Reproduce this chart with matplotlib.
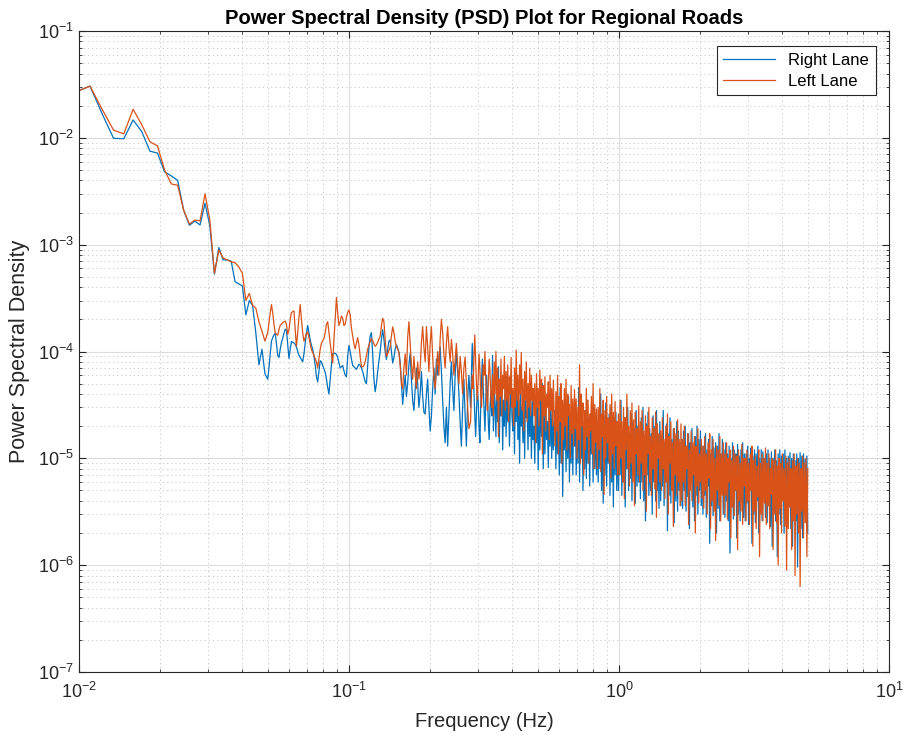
import numpy as np
import matplotlib
matplotlib.use("Agg")
import matplotlib.pyplot as plt
from matplotlib.ticker import LogLocator, NullFormatter

plt.rcParams['font.family'] = ['Liberation Sans', 'DejaVu Sans']
plt.rcParams['mathtext.fontset'] = 'custom'
plt.rcParams['mathtext.rm'] = 'Liberation Sans'
plt.rcParams['mathtext.it'] = 'Liberation Sans:italic'
plt.rcParams['mathtext.bf'] = 'Liberation Sans:bold'

# spectrum settings (fs = 10 Hz, nfft = 8192)
fs = 10.0
nfft = 8192

# PSD values in units of 1e-6, low-frequency bins k = 8..40
right_low = [27000, 30500, 16600, 9900, 9800, 14700, 11400, 7500, 7200, 4800, 4400,
             4000, 2100, 1520, 1660, 1530, 2440, 1500, 530, 940, 720, 720, 700,
             450, 430, 410, 220, 300, 270, 150, 75, 105, 62]
left_low = [27000, 30500, 18300, 11800, 10900, 18500, 13200, 9200, 8400, 5000, 3700,
            3600, 2100, 1560, 1700, 1670, 3000, 1700, 540, 890, 750, 720, 690,
            677, 620, 540, 300, 350, 270, 255, 190, 155, 125]

# PSD values in units of 1e-6, 0.05 Hz .. 0.278 Hz
right_mid = [
    55, 70, 95, 125, 135, 143, 148, 118, 92, 88, 105, 122, 133, 148, 162, 158, 115, 86,
    105, 124, 122, 120, 117, 110, 100, 92, 88, 84, 80, 95, 120, 150, 175, 150, 128, 114,
    105, 90, 75, 58, 52, 65, 82, 80, 74, 69, 64, 55, 46, 40, 55, 75, 95, 96,
    96, 94, 88, 78, 70, 72, 74, 66, 60, 58, 90, 114, 100, 85, 74, 72, 70, 68,
    72, 76, 74, 70, 65, 58, 52, 50, 75, 110, 140, 150, 95, 55, 42, 50, 65, 82,
    100, 130, 160, 130, 100, 84, 105, 125, 128, 100, 78, 88, 105, 116, 108, 98, 80, 52,
    32, 45, 60, 38, 50, 75, 96, 55, 35, 28, 45, 70, 50, 30, 40, 65, 38, 27,
    26, 40, 55, 30, 18, 25, 45, 70, 40, 85, 60, 90, 110, 65, 35, 20, 14, 30,
    13, 25, 50, 80, 45, 28, 60, 100, 65, 40, 22, 13, 30, 55, 25, 13, 35, 60,
]
left_mid = [
    150, 185, 230, 275, 230, 180, 150, 145, 142, 160, 176, 180, 186, 190, 192, 180, 145, 160,
    200, 232, 236, 240, 160, 112, 150, 210, 275, 200, 150, 125, 135, 148, 152, 135, 118, 104,
    98, 92, 86, 80, 70, 85, 105, 120, 126, 132, 150, 180, 190, 150, 118, 95, 78, 130,
    200, 320, 230, 175, 190, 215, 205, 175, 180, 210, 232, 245, 220, 165, 140, 118, 106, 120,
    135, 115, 90, 72, 72, 74, 80, 92, 105, 115, 124, 132, 126, 118, 112, 115, 122, 130,
    140, 175, 205, 190, 130, 90, 95, 102, 110, 140, 170, 150, 125, 112, 105, 98, 75, 50,
    45, 70, 95, 60, 135, 190, 120, 75, 55, 90, 60, 45, 80, 55, 70, 120, 171, 110,
    80, 171, 110, 65, 120, 171, 90, 55, 45, 70, 100, 60, 130, 200, 150, 95, 70, 120,
    171, 110, 80, 130, 95, 60, 85, 119, 75, 50, 90, 65, 40, 70, 89, 50, 30, 19,
]

# PSD values in units of 1e-6, 0.282 Hz .. 5 Hz (dense part of the spectrum)
right_dense = [
    30, 60, 119, 70, 40, 25, 16, 28, 45, 35, 20, 14, 30, 55, 85, 45, 28, 18, 35, 60, 40, 22, 15, 30, 42,
    25, 92, 18, 45, 30, 16, 55, 22, 72, 14, 40, 25, 50, 12, 35, 20, 60, 16, 38, 22, 45, 13, 30, 55, 25,
    18, 40, 11, 50, 22, 60, 15, 35, 9, 45, 20, 30, 14, 38, 10, 50, 24, 28, 12, 42, 16, 33, 10, 36, 15,
    20, 9, 32, 14, 40, 7.8, 25, 12, 35, 16, 50, 8, 28, 11, 33, 15, 22, 8.2, 30, 13, 38, 10, 26, 12, 22,
    28, 8, 35, 11, 25, 7, 46, 9, 30, 4.4, 22, 12, 32, 7.5, 27, 10, 38, 6, 24, 9, 30, 7, 26, 13, 33,
    7, 25, 9, 46, 6, 22, 10, 30, 5, 20, 8, 28, 6.5, 35, 9, 24, 5.5, 26, 11, 21, 6, 30, 8, 23, 7,
    22, 6, 28, 8, 40, 5, 20, 3.8, 25, 7, 33, 5.5, 21, 9, 26, 4.5, 30, 6, 19, 3.5, 24, 7, 27, 5, 22,
    5, 20, 7, 35, 4.5, 18, 6, 24, 3.5, 21, 8, 30, 5, 17, 6.5, 26, 4, 22, 7, 19, 3.8, 28, 5.5, 20, 6,
    18, 4.2, 24, 6, 30, 4, 16, 2.6, 21, 7, 27, 4.5, 19, 5, 17, 3, 25, 6, 20, 4, 28, 5, 15, 3.4, 22,
    4, 16, 5.5, 28, 3.6, 14, 6, 21, 2.1, 17, 4.5, 24, 3.8, 15, 5, 19, 2.5, 16, 4, 22, 3.2, 18, 5, 14, 3.6,
    15, 3.4, 18, 5, 20, 3.2, 13, 4.4, 17, 2.2, 14, 6, 19, 3.5, 12, 2.6, 16, 4.5, 20, 3, 15, 5, 18, 3.6, 13,
    3, 13, 4.5, 17, 2.8, 12, 5.5, 15, 1.6, 11, 3.6, 16, 2.9, 12.5, 4, 14, 2, 13, 3.4, 17, 2.6, 11, 4.8, 15, 3,
    12, 2.8, 14, 4, 11, 2.6, 13, 1.3, 10, 3.5, 14, 2.7, 12, 5, 11, 1.8, 13.5, 3, 10.5, 2.6, 12, 4.2, 14, 2.8, 11,
    2.6, 11, 3.8, 13, 2.4, 10, 5, 12.5, 1.6, 10.5, 3, 12, 2.5, 11, 4, 13, 2, 10, 3.2, 12, 2.6, 11.5, 4.5, 10, 2.8,
    11, 2.5, 12, 3.6, 10, 2.3, 11.5, 1.5, 10, 4, 12, 2.6, 9.5, 1.2, 11, 3, 12, 2.4, 10.5, 4.2, 11, 2, 12, 3.2, 10,
    2.4, 10.5, 3.5, 11.3, 2.2, 10, 1.5, 11, 4, 9.5, 2.6, 11, 0.96, 10, 3, 11.3, 2.2, 10.5, 1.8, 11, 3.4, 9.8, 2.5, 10.5, 2,
]
left_dense = [
    22, 40, 60, 45, 90, 143, 80, 50, 35, 55, 95, 70, 40, 30, 48, 75, 60, 100, 55, 35, 28, 50, 85, 65, 40,
    30, 60, 25, 80, 40, 100, 35, 70, 16, 55, 38, 85, 25, 60, 45, 90, 28, 65, 35, 75, 22, 58, 40, 88, 30,
    45, 20, 70, 30, 103, 35, 60, 25, 75, 40, 98, 28, 55, 18, 65, 35, 80, 22, 50, 30, 70, 25, 60, 35, 45,
    25, 50, 14, 62, 30, 45, 20, 67, 35, 55, 11, 48, 25, 58, 18, 40, 30, 52, 15, 60, 28, 45, 20, 54, 24,
    13, 42, 18, 60, 11, 38, 22, 50, 9, 35, 15, 45, 20, 55, 12, 40, 25, 32, 10, 48, 17, 36, 13, 44, 19,
    36, 10, 30, 15, 75, 9, 40, 20, 33, 7, 28, 12, 45, 16, 35, 9, 26, 18, 38, 11, 50, 8, 32, 14, 29,
    8, 30, 12, 45, 7.5, 26, 16, 35, 4.6, 28, 10, 38, 14, 24, 9, 32, 6.5, 40, 11, 27, 8, 34, 13, 22, 7,
    26, 7, 35, 10, 22, 6, 30, 4.2, 24, 12, 40, 8, 20, 5.5, 28, 9, 33, 6, 23, 3.6, 27, 11, 19, 7, 31,
    6, 22, 9, 28, 5, 18, 7, 25, 3.2, 20, 11, 30, 6, 16, 4.5, 24, 8, 19, 5.2, 27, 2.8, 21, 10, 17, 6,
    18, 5, 24, 8, 15, 4.2, 20, 6, 26, 3, 16, 9, 22, 5, 14, 2.3, 19, 7, 17, 4.5, 23, 6, 15, 3.6, 21,
    4, 15, 6, 20, 3.6, 13, 8, 17, 2.4, 12, 5, 18, 4, 14, 7, 16, 2.0, 13, 5.5, 19, 3.8, 11, 6, 15, 4.2,
    13, 3.4, 16, 5, 11, 3, 14, 6.5, 17, 2.2, 12, 4, 15, 3.2, 10, 1.7, 13, 5, 12, 3.6, 16, 2.6, 11, 4.5, 14,
    3, 11, 4.5, 14, 2.7, 10, 6, 12, 1.8, 9.5, 3.5, 13, 2.9, 11, 5, 10.5, 1.4, 12, 4, 9, 3.2, 13.5, 2.4, 10, 5.5,
    10, 2.6, 12, 4, 9, 2.4, 11, 5, 13, 1.5, 9.5, 3.2, 10.5, 2.2, 8.5, 4.4, 12, 1.2, 9, 3, 11, 2.6, 10, 3.8, 12.5,
    2.4, 9, 3.6, 11, 2.2, 8, 4.6, 10, 1.4, 9.5, 3, 12, 2.5, 8.5, 1.0, 10, 3.4, 9, 2, 11, 4, 8, 2.3, 10.5, 0.9,
    9, 2.2, 10, 3.5, 8, 1.4, 9.5, 2.6, 11, 0.8, 8.5, 3, 10, 2, 9, 0.63, 8, 3.2, 10.5, 1.8, 9, 2.5, 10, 1.2, 8,
]

freq_low = np.arange(8, 8 + len(right_low)) * fs / nfft
freq_mid = np.geomspace(0.05, 0.278, len(right_mid))
freq_dense = np.geomspace(0.282, 5.0, len(right_dense))
freq = np.concatenate([freq_low, freq_mid, freq_dense])
psd_right = np.array(right_low + right_mid + right_dense) * 1e-6
psd_left = np.array(left_low + left_mid + left_dense) * 1e-6

fig = plt.figure(figsize=(9.04, 7.35), dpi=100)
ax = fig.add_axes([79 / 904, 63 / 735, 810 / 904, 641 / 735])

ax.loglog(freq, psd_right, color='#0072BD', linewidth=0.9, label='Right Lane')
ax.loglog(freq, psd_left, color='#D95319', linewidth=0.9, label='Left Lane')

ax.set_xlim(1e-2, 1e1)
ax.set_ylim(1e-7, 1e-1)
ax.xaxis.set_major_locator(LogLocator(base=10, numticks=10))
ax.yaxis.set_major_locator(LogLocator(base=10, numticks=10))
ax.xaxis.set_minor_locator(LogLocator(base=10, subs=np.arange(2, 10), numticks=20))
ax.yaxis.set_minor_locator(LogLocator(base=10, subs=np.arange(2, 10), numticks=20))
ax.xaxis.set_minor_formatter(NullFormatter())
ax.yaxis.set_minor_formatter(NullFormatter())

# MATLAB-like grid and box
ax.grid(True, which='major', color='#dcdcdc', linewidth=0.8, linestyle='-')
ax.grid(True, which='minor', color='#c4c4c4', linewidth=0.6, linestyle=(0, (1.5, 3.5)))
ax.set_axisbelow(True)
for s in ax.spines.values():
    s.set_color('#262626')
    s.set_linewidth(0.8)
ax.tick_params(which='both', direction='in', top=True, right=True, colors='#262626',
               labelsize=13)
ax.tick_params(which='major', length=5)
ax.tick_params(which='minor', length=2.5)
ax.tick_params(axis='x', pad=7)

ax.set_title('Power Spectral Density (PSD) Plot for Regional Roads', fontsize=14.5,
             fontweight='bold', pad=5)
ax.set_xlabel('Frequency (Hz)', fontsize=14.5, color='#262626', labelpad=7)
ax.set_ylabel('Power Spectral Density', fontsize=15.5, color='#262626', labelpad=6)

leg = ax.legend(loc='upper right', bbox_to_anchor=(0.9835, 0.9761), borderaxespad=0,
                fontsize=12, fancybox=False, framealpha=1, edgecolor='#262626',
                handlelength=3.1, labelspacing=0.35)
leg.get_frame().set_linewidth(0.8)

fig.savefig('out.png', dpi=100)
